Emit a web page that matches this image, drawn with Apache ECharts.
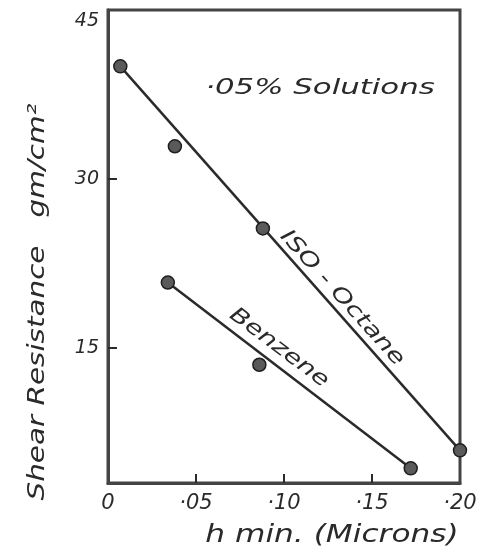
<!DOCTYPE html>
<html>
<head>
<meta charset="utf-8">
<script src="https://cdn.jsdelivr.net/npm/echarts@6/dist/echarts.min.js"></script>
<style>
  html, body { margin: 0; padding: 0; background: #fff; }
  #chart { width: 501px; height: 558px; }
</style>
</head>
<body>
<div id="chart"></div>
<script>
// Film thickness h min (microns) against shear resistance (gm/cm^2)
const isoOctaneH = [0.007, 0.038, 0.088, 0.200];
const isoOctaneShear = [40.0, 32.9, 25.6, 5.9];
const benzeneH = [0.034, 0.086, 0.172];
const benzeneShear = [20.8, 13.5, 4.3];

const xTickValues = [0, 0.05, 0.10, 0.15, 0.20];
const xTickLabels = ['0', '·05', '·10', '·15', '·20'];
const yTickValues = [15, 30, 45];
const yTickLabels = ['15', '30', '45'];

const INK = '#2a2a2a';
const FONT = 'DejaVu Sans';

const pairs = (xs, ys) => xs.map((x, i) => [x, ys[i]]);
// the drawn lines run from the first to the last measured point of each series
const ends = (xs, ys) => [[xs[0], ys[0]], [xs[xs.length - 1], ys[ys.length - 1]]];

const chart = echarts.init(document.getElementById('chart'), null, { renderer: 'canvas' });

const labelStyle = { fontFamily: FONT, fontStyle: 'italic', fontSize: 19, color: INK };

// stretched italic lettering
const lettering = (text, x, y, size, rotDeg, sx) => ({
  type: 'text', x: x, y: y, rotation: rotDeg * Math.PI / 180, scaleX: sx, scaleY: 1,
  style: { text: text, font: 'italic ' + size + 'px "DejaVu Sans"', fill: INK,
    align: 'center', verticalAlign: 'middle' }
});

chart.setOption({
  animation: false,
  backgroundColor: '#fff',
  grid: {
    left: 108, right: 41, top: 10, bottom: 75,
    show: true, borderColor: '#444', borderWidth: 3, backgroundColor: 'transparent'
  },
  xAxis: {
    type: 'value', min: 0, max: 0.2,
    axisLine: { show: true, lineStyle: { color: '#444', width: 3 } },
    splitLine: { show: false },
    axisTick: { show: true, inside: true, length: 9, lineStyle: { color: INK, width: 2 },
      customValues: [0.05, 0.10, 0.15] },
    axisLabel: Object.assign({}, labelStyle, {
      margin: 10, fontSize: 21,
      customValues: xTickValues,
      formatter: v => xTickLabels[xTickValues.findIndex(t => Math.abs(t - v) < 1e-9)]
    })
  },
  yAxis: {
    type: 'value', min: 3, max: 45,
    axisLine: { show: true, lineStyle: { color: '#444', width: 3 } },
    splitLine: { show: false },
    axisTick: { show: true, inside: true, length: 9, lineStyle: { color: INK, width: 2 },
      customValues: [15, 30] },
    axisLabel: Object.assign({}, labelStyle, {
      margin: 9,
      customValues: yTickValues,
      formatter: v => v === 45 ? '{top|45}' : yTickLabels[yTickValues.indexOf(v)],
      rich: { top: { fontFamily: FONT, fontStyle: 'italic', fontSize: 19, color: INK, padding: [22, 0, 0, 0] } }
    })
  },
  series: [
    {
      name: 'Iso-Octane line', type: 'line', data: ends(isoOctaneH, isoOctaneShear),
      symbol: 'none', lineStyle: { color: INK, width: 2.5 }, z: 2
    },
    {
      name: 'Benzene line', type: 'line', data: ends(benzeneH, benzeneShear),
      symbol: 'none', lineStyle: { color: INK, width: 2.5 }, z: 2
    },
    {
      name: 'Iso-Octane', type: 'scatter', data: pairs(isoOctaneH, isoOctaneShear),
      symbolSize: 13, itemStyle: { color: '#5a5a5a', borderColor: '#1e1e1e', borderWidth: 1.5, opacity: 1 }, z: 3
    },
    {
      name: 'Benzene', type: 'scatter', data: pairs(benzeneH, benzeneShear),
      symbolSize: 13, itemStyle: { color: '#5a5a5a', borderColor: '#1e1e1e', borderWidth: 1.5, opacity: 1 }, z: 3
    }
  ],
  graphic: [
    lettering('·05% Solutions', 320, 88, 22, 0, 1.4),
    lettering('ISO - Octane', 342, 298, 21, -48, 1.32),
    lettering('Benzene', 279, 348, 21, -37, 1.3),
    lettering('h min. (Microns)', 332, 536, 24, 0, 1.3),
    lettering('Shear Resistance   gm/cm²', 38, 302, 23, 90, 1.28)
  ]
});
</script>
</body>
</html>
